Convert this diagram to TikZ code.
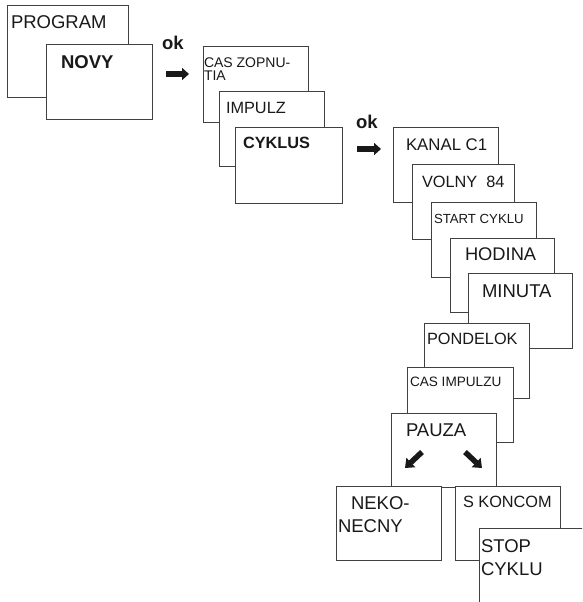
\documentclass[tikz,border=0pt]{standalone}
\usepackage{fontspec}
\setmainfont{Liberation Sans}
\usetikzlibrary{arrows.meta}
\tikzset{
  box/.style={draw=black!75, line width=1pt, fill=white, inner sep=0pt, outer sep=0pt, anchor=north west},
  edge/.style={draw=black!75, line width=1pt},
  lbl/.style={anchor=base west, inner sep=0pt, outer sep=0pt, text=black!90},
  fat/.style={line width=6pt, black!90, -{Triangle[width=12pt,length=7pt]}},
  fatd/.style={line width=5.5pt, black!90, -{Triangle[width=12.5pt,length=8pt]}},
}
\newcommand\fs[1]{\fontsize{#1}{#1}\selectfont}
\begin{document}
\begin{tikzpicture}[x=1pt,y=-1pt]
\useasboundingbox (0,0) rectangle (582,602);
\clip (0,0) rectangle (582,602);
% group 1
\node[box, minimum width=121pt, minimum height=91pt] (prog) at (7,6) {};
\node[box, minimum width=106pt, minimum height=74pt] (novy) at (46,45) {};
\node[lbl] (tprog) at (11,29) {\fs{18.5}PROGRAM};
\node[lbl] (tnovy) at (61,68) {\fs{18.5}\bfseries NOVY};
\node[lbl] (ok1) at (162,50) {\fs{18.5}\bfseries ok};
\coordinate (a1s) at (166,74);
\coordinate (a1e) at (189,74);
\draw[fat] (a1s) -- (a1e);
% group 2
\node[box, minimum width=105pt, minimum height=75pt] (cas) at (203,47) {};
\node[box, minimum width=105pt, minimum height=75pt] (imp) at (219,91) {};
\node[box, minimum width=107pt, minimum height=76pt] (cyk) at (235,127) {};
\node[lbl] (tcas1) at (204,67) {\fs{14}CAS ZOPNU-};
\node[lbl] (tcas2) at (204,80) {\fs{14}TIA};
\node[lbl] (timp) at (226,113) {\fs{16.3}IMPULZ};
\node[lbl] (tcyk) at (243,148) {\fs{16.3}\bfseries CYKLUS};
\node[lbl] (ok2) at (356,128) {\fs{18.5}\bfseries ok};
\coordinate (a2s) at (357,149);
\coordinate (a2e) at (381,149);
\draw[fat] (a2s) -- (a2e);
% group 3
\node[box, minimum width=105pt, minimum height=75pt] (kanal) at (393,127) {};
\node[box, minimum width=102pt, minimum height=75pt] (volny) at (412,164) {};
\node[box, minimum width=105pt, minimum height=75pt] (start) at (431,202) {};
\node[box, minimum width=104pt, minimum height=74pt] (hod) at (450,238) {};
\node[box, minimum width=104pt, minimum height=75pt] (minu) at (468,273) {};
\node[box, minimum width=105pt, minimum height=75pt] (pond) at (424,323) {};
\node[box, minimum width=106pt, minimum height=75pt] (casimp) at (407,367) {};
\node[box, minimum width=105pt, minimum height=74pt] (pauza) at (391,413) {};
\node[lbl] (tkanal) at (406,150) {\fs{16.8}KANAL C1};
\node[lbl] (tvolny) at (422,187) {\fs{16.3}VOLNY\ \ 84};
\node[lbl] (tstart) at (434,223) {\fs{13.2}START CYKLU};
\node[lbl] (thod) at (465,260) {\fs{18.3}HODINA};
\node[lbl] (tmin) at (482,297) {\fs{18.5}MINUTA};
\node[lbl] (tpond) at (427,344) {\fs{16.3}PONDELOK};
\node[lbl] (tcasimp) at (410,386) {\fs{13.6}CAS IMPULZU};
\node[lbl] (tpauza) at (406,436) {\fs{18.5}PAUZA};
\coordinate (d1s) at (422,452);
\coordinate (d1e) at (405,468);
\coordinate (d2s) at (465,452);
\coordinate (d2e) at (482,468);
\draw[fatd] (d1s) -- (d1e);
\draw[fatd] (d2s) -- (d2e);
% group 4
\node[box, minimum width=105pt, minimum height=74pt] (neko) at (336,486) {};
\node[box, minimum width=105pt, minimum height=74pt] (skon) at (455,486) {};
\node[box, draw=none, minimum width=115pt, minimum height=85pt] (stop) at (479,528) {};
\draw[edge] (stop.south west) -- (stop.north west) -- (stop.north east);
\node[lbl] (tneko1) at (351,509) {\fs{18.5}NEKO-};
\node[lbl] (tneko2) at (338,532) {\fs{18.5}NECNY};
\node[lbl] (tskon) at (463,507) {\fs{16.3}S KONCOM};
\node[lbl] (tstop1) at (481,552) {\fs{18.5}STOP};
\node[lbl] (tstop2) at (481,575) {\fs{18.5}CYKLU};
\end{tikzpicture}
\end{document}
